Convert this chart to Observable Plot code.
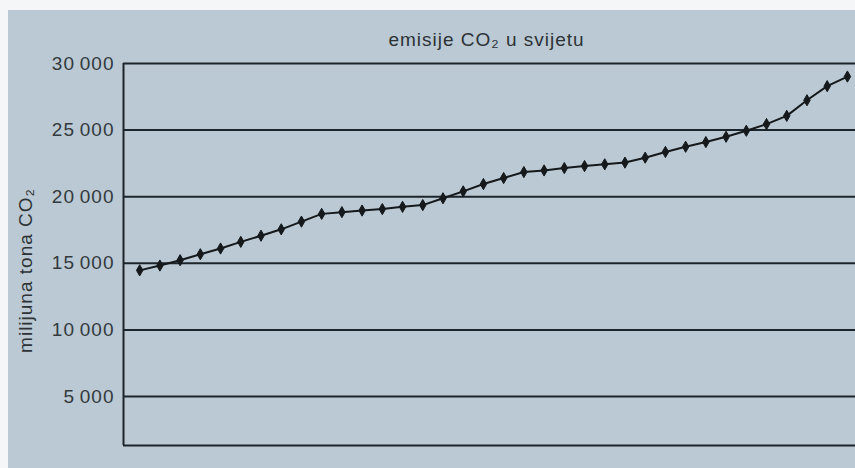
<!DOCTYPE html>
<html>
<head>
<meta charset="utf-8">
<script src="https://cdn.jsdelivr.net/npm/d3@7"></script>
<script src="https://cdn.jsdelivr.net/npm/@observablehq/plot@0.6"></script>
<style>
  html, body { margin: 0; padding: 0; background: #f4f6f7; }
  #wrap { position: relative; width: 855px; height: 468px; overflow: hidden; }
  #paper { position: absolute; left: 8px; top: 10px; width: 847px; height: 458px; background: #bac9d3; }
  #chart { position: absolute; left: 0; top: 0; }
  #chart svg { background: transparent !important; }
  #chart svg text { letter-spacing: 1px; }
</style>
</head>
<body>
<div id="wrap"><div id="paper"></div><div id="chart"></div></div>
<script>
const years = d3.range(1970, 2006);
const emissions = [
  14470, 14830, 15230, 15680, 16110, 16610, 17070, 17550, 18130, 18710,
  18840, 18960, 19070, 19240, 19370, 19880, 20400, 20950, 21400, 21850,
  21970, 22150, 22300, 22430, 22560, 22930, 23360, 23750, 24100, 24500,
  24950, 25450, 26070, 27240, 28300, 29020
];
const yTicks = [5000, 10000, 15000, 20000, 25000, 30000];
const titleText = "emisije CO₂ u svijetu";
const yLabel = "milijuna tona CO₂";
const xDomain = [1969.2, 2005.4];
const yDomain = [1320, 30000];

const data = years.map((y, i) => ({year: y, value: emissions[i]}));
const fmt = d => d3.format(",")(d).replace(/,/g, "\u2009");

const chart = Plot.plot({
  width: 855,
  height: 468,
  marginLeft: 123,
  marginTop: 63,
  marginBottom: 23,
  marginRight: 0,
  style: {background: "transparent", fontFamily: "Liberation Sans, Arial, sans-serif"},
  x: {domain: xDomain, axis: null},
  y: {domain: yDomain, ticks: yTicks, tickFormat: fmt, tickSize: 0, tickPadding: 10, label: null},
  marks: [
    Plot.axisY({ticks: yTicks, tickFormat: fmt, tickSize: 0, tickPadding: 9, fontSize: 19, fill: "#33393e", label: null}),
    Plot.ruleY(yTicks, {stroke: "#1c252b", strokeWidth: 2}),
    Plot.ruleY([yDomain[0]], {stroke: "#1c252b", strokeWidth: 2}),
    Plot.ruleX([xDomain[0]], {stroke: "#1c252b", strokeWidth: 2}),
    Plot.line(data, {x: "year", y: "value", stroke: "#15191c", strokeWidth: 2}),
    Plot.dot(data, {x: "year", y: "value", symbol: "diamond", r: 3.4, fill: "#15191c", stroke: "#15191c", strokeWidth: 1}),
    Plot.text([titleText], {frameAnchor: "top", text: d => d, dy: -31, dx: -3, fontSize: 19, fill: "#2c3236"}),
    Plot.text([yLabel], {frameAnchor: "left", textAnchor: "middle", text: d => d, rotate: -90, dx: -98, dy: 16, fontSize: 19, fill: "#2c3236"})
  ]
});
document.getElementById("chart").appendChild(chart);
</script>
</body>
</html>
